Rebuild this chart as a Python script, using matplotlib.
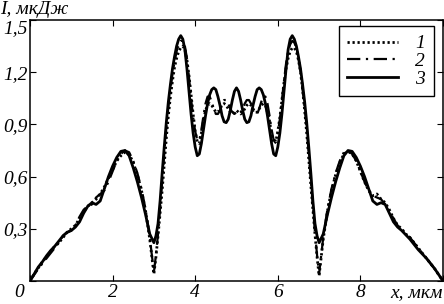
import numpy as np
import matplotlib
matplotlib.use("Agg")
import matplotlib.pyplot as plt

# x grid: 0.1 um step on the wings, 0.05 um step between 3 and 7
x_left = np.round(np.arange(0.0, 2.95, 0.1), 2)
x_mid = np.round(np.arange(3.0, 7.001, 0.05), 2)
x_right = np.round(np.arange(7.1, 10.001, 0.1), 2)
x = np.concatenate([x_left, x_mid, x_right])

# curve 1 (dotted)
curve1_left = [
    0.00, 0.04, 0.075, 0.11, 0.14, 0.17, 0.20, 0.22, 0.25, 0.28,
    0.30, 0.32, 0.36, 0.40, 0.43, 0.45, 0.47, 0.50, 0.54, 0.59,
    0.64, 0.69, 0.72, 0.74, 0.73, 0.68, 0.61, 0.52, 0.40, 0.24,
]
curve1_mid = [
    0.04, 0.14, 0.26, 0.39, 0.52, 0.67, 0.82, 0.95, 1.06, 1.15,
    1.23, 1.28, 1.32, 1.34, 1.35, 1.33, 1.27, 1.18, 1.07, 0.96,
    0.86, 0.80, 0.79, 0.85, 0.92, 0.98, 1.01, 1.02, 1.01, 0.99,
    0.97, 0.97, 0.99, 1.01, 1.02, 1.01, 0.99, 0.97, 0.96, 0.97,
    0.98, 0.97, 0.96, 0.97, 0.99, 1.01, 1.02, 1.01, 0.99, 0.97,
    0.97, 0.99, 1.01, 1.02, 1.01, 0.97, 0.92, 0.84, 0.79, 0.80,
    0.86, 0.94, 1.04, 1.14, 1.22, 1.28, 1.32, 1.34, 1.34, 1.32,
    1.27, 1.20, 1.10, 0.98, 0.85, 0.70, 0.55, 0.41, 0.27, 0.14,
    0.03,
]
curve1_right = [
    0.24, 0.40, 0.52, 0.61, 0.68, 0.73, 0.745, 0.73, 0.69, 0.63,
    0.57, 0.52, 0.49, 0.50, 0.47, 0.45, 0.41, 0.36, 0.32, 0.30,
    0.27, 0.25, 0.22, 0.19, 0.16, 0.13, 0.10, 0.07, 0.035, 0.00,
]

# curve 2 (dash-dot)
curve2_left = [
    0.00, 0.035, 0.07, 0.10, 0.13, 0.16, 0.19, 0.22, 0.26, 0.28,
    0.29, 0.32, 0.37, 0.41, 0.43, 0.44, 0.48, 0.50, 0.52, 0.57,
    0.63, 0.69, 0.73, 0.75, 0.74, 0.69, 0.62, 0.53, 0.41, 0.25,
]
curve2_mid = [
    0.05, 0.15, 0.27, 0.42, 0.57, 0.73, 0.88, 1.00, 1.10, 1.19,
    1.26, 1.32, 1.36, 1.38, 1.38, 1.35, 1.28, 1.17, 1.05, 0.94,
    0.86, 0.81, 0.81, 0.87, 0.95, 1.02, 1.06, 1.06, 1.03, 0.99,
    0.96, 0.96, 0.98, 1.02, 1.04, 1.04, 1.02, 0.99, 0.97, 0.96,
    0.97, 0.96, 0.97, 0.99, 1.02, 1.04, 1.04, 1.02, 0.98, 0.96,
    0.96, 0.99, 1.03, 1.06, 1.06, 1.02, 0.95, 0.87, 0.81, 0.81,
    0.85, 0.93, 1.04, 1.15, 1.25, 1.32, 1.36, 1.38, 1.37, 1.34,
    1.28, 1.20, 1.10, 1.00, 0.88, 0.73, 0.58, 0.43, 0.28, 0.15,
    0.04,
]
curve2_right = [
    0.25, 0.41, 0.53, 0.62, 0.69, 0.74, 0.75, 0.73, 0.69, 0.63,
    0.57, 0.52, 0.49, 0.48, 0.47, 0.44, 0.40, 0.36, 0.32, 0.29,
    0.27, 0.25, 0.22, 0.19, 0.16, 0.13, 0.10, 0.07, 0.035, 0.00,
]

# curve 3 (solid)
curve3_left = [
    0.00, 0.04, 0.08, 0.11, 0.145, 0.175, 0.20, 0.23, 0.26, 0.28,
    0.29, 0.31, 0.34, 0.39, 0.43, 0.45, 0.44, 0.46, 0.53, 0.60,
    0.66, 0.71, 0.745, 0.75, 0.72, 0.65, 0.57, 0.48, 0.38, 0.27,
]
curve3_mid = [
    0.22, 0.26, 0.33, 0.46, 0.62, 0.77, 0.91, 1.03, 1.13, 1.22,
    1.29, 1.35, 1.39, 1.41, 1.39, 1.33, 1.22, 1.09, 0.96, 0.85,
    0.77, 0.72, 0.73, 0.79, 0.87, 0.95, 1.02, 1.07, 1.10, 1.11,
    1.10, 1.06, 1.01, 0.95, 0.915, 0.91, 0.93, 0.98, 1.04, 1.09,
    1.11, 1.09, 1.04, 0.98, 0.93, 0.91, 0.915, 0.95, 1.01, 1.06,
    1.10, 1.11, 1.10, 1.07, 1.02, 0.95, 0.87, 0.79, 0.73, 0.72,
    0.77, 0.85, 0.96, 1.09, 1.22, 1.33, 1.39, 1.41, 1.39, 1.35,
    1.29, 1.22, 1.13, 1.03, 0.91, 0.77, 0.62, 0.46, 0.33, 0.26,
    0.22,
]
curve3_right = [
    0.27, 0.38, 0.48, 0.57, 0.65, 0.72, 0.75, 0.745, 0.71, 0.66,
    0.60, 0.53, 0.46, 0.44, 0.45, 0.44, 0.39, 0.34, 0.31, 0.29,
    0.265, 0.24, 0.21, 0.18, 0.155, 0.13, 0.10, 0.07, 0.035, 0.00,
]

curve1 = curve1_left + curve1_mid + curve1_right
curve2 = curve2_left + curve2_mid + curve2_right
curve3 = curve3_left + curve3_mid + curve3_right

x_ticks = [0, 2, 4, 6, 8, 10]
x_tick_labels = ["", "2", "4", "6", "8", ""]
y_ticks = [0, 0.3, 0.6, 0.9, 1.2, 1.5]
y_tick_labels = ["", "0,3", "0,6", "0,9", "1,2", "1,5"]
legend_labels = ["1", "2", "3"]

plt.rcParams.update({
    "font.family": ["Liberation Serif", "DejaVu Serif"],
    "font.style": "italic",
    "font.size": 14,
})

fig = plt.figure(figsize=(4.44, 3.04), dpi=100)
ax = fig.add_axes([30 / 444, 23 / 304, 413 / 444, 261 / 304])

ax.plot(x, curve1, color="black", linestyle=(0, (0.8, 1.0)), linewidth=2.0,
        label=legend_labels[0])
ax.plot(x, curve2, color="black", linestyle=(0, (6, 2.5, 1, 2.5)), linewidth=1.6,
        label=legend_labels[1])
ax.plot(x, curve3, color="black", linestyle="-", linewidth=2.0,
        label=legend_labels[2])

ax.set_xlim(0, 10)
ax.set_ylim(0, 1.5)
ax.set_xticks(x_ticks)
ax.set_xticklabels(x_tick_labels)
ax.set_yticks(y_ticks)
ax.set_yticklabels(y_tick_labels)
ax.tick_params(direction="in", length=4, width=0.8, top=True, right=True,
               labelsize=14, pad=2)
ax.get_yticklabels()[-1].set_va("top")

for sp in ax.spines.values():
    sp.set_linewidth(1.1)

ax.annotate("0", xy=(0, 0), xycoords="axes fraction", xytext=(-8, -2),
            textcoords="offset points", ha="center", va="top", fontsize=14)
ax.annotate("x, мкм", xy=(1, 0), xycoords="axes fraction", xytext=(0, -2),
            textcoords="offset points", ha="right", va="top", fontsize=14)
fig.text(0.0, 0.998, "I, мкДж", ha="left", va="top", fontsize=14)

leg = ax.legend(loc="upper right", bbox_to_anchor=(0.978, 0.977),
                borderaxespad=0, fancybox=False, framealpha=1,
                edgecolor="black", handlelength=2.6, labelspacing=0.0,
                borderpad=0.45, handletextpad=0.9, fontsize=14)
leg.get_frame().set_linewidth(1.0)

fig.savefig("out.png", dpi=100)
